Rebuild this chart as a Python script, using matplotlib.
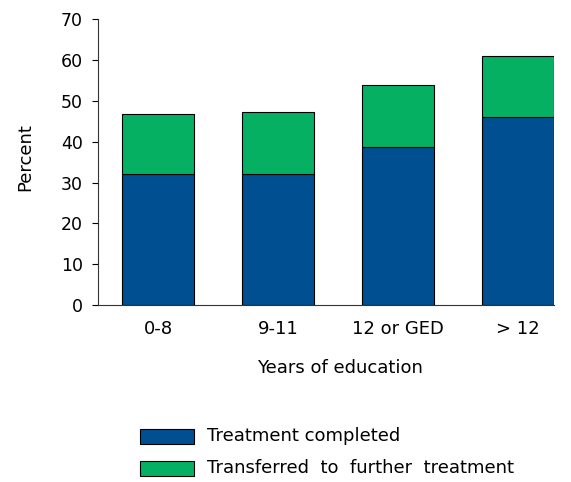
import matplotlib
matplotlib.use("Agg")
import matplotlib.pyplot as plt
from matplotlib.patches import Rectangle

plt.rcParams['font.family'] = ['DejaVu Sans']

categories = ["0-8", "9-11", "12 or GED", "> 12"]
completed = [32.1, 32.1, 38.6, 46.0]
transferred = [14.6, 15.2, 15.4, 14.9]
series_labels = ["Treatment completed", "Transferred  to  further  treatment"]
blue = "#004F91"
green = "#06B063"

W, H = 571, 482
fig = plt.figure(figsize=(W/100, H/100), dpi=100)
ax = fig.add_axes([98/W, 1-305/H, (554-98)/W, (305-19.3)/H])

x = list(range(len(categories)))
ax.bar(x, completed, width=0.6, color=blue, edgecolor="black", linewidth=0.8)
ax.bar(x, transferred, width=0.6, bottom=completed, color=green, edgecolor="black", linewidth=0.8)

ax.set_xlim(-0.5, 3.3)
ax.set_ylim(0, 70)
ax.set_yticks(range(0, 71, 10))
ax.set_xticks(x)
ax.set_xticklabels(categories)
ax.tick_params(axis='x', length=0, labelsize=13, pad=11)
ax.tick_params(axis='y', length=4, labelsize=12.5, direction='out', width=0.8, pad=7)
for s in ['top', 'right']:
    ax.spines[s].set_visible(False)
for s in ['left', 'bottom']:
    ax.spines[s].set_linewidth(0.8)
    ax.spines[s].set_color("#333333")

fig.text(25/W, 1-157/H, "Percent", fontsize=13, rotation=90, ha='center', va='center')
fig.text(340/W, 1-373/H, "Years of education", fontsize=13, ha='center', va='baseline')

# legend drawn manually
leg_x0, leg_w, leg_h = 140, 54, 15
rows_y = [436, 468]
cols = [blue, green]
for yc, c, lab in zip(rows_y, cols, series_labels):
    fig.add_artist(Rectangle((leg_x0/W, 1-(yc+leg_h/2)/H), leg_w/W, leg_h/H,
                             transform=fig.transFigure, facecolor=c, edgecolor="black", linewidth=0.8))
    fig.text(207/W, 1-yc/H, lab, fontsize=13, va='center', ha='left')

fig.savefig("out.png", dpi=100)
